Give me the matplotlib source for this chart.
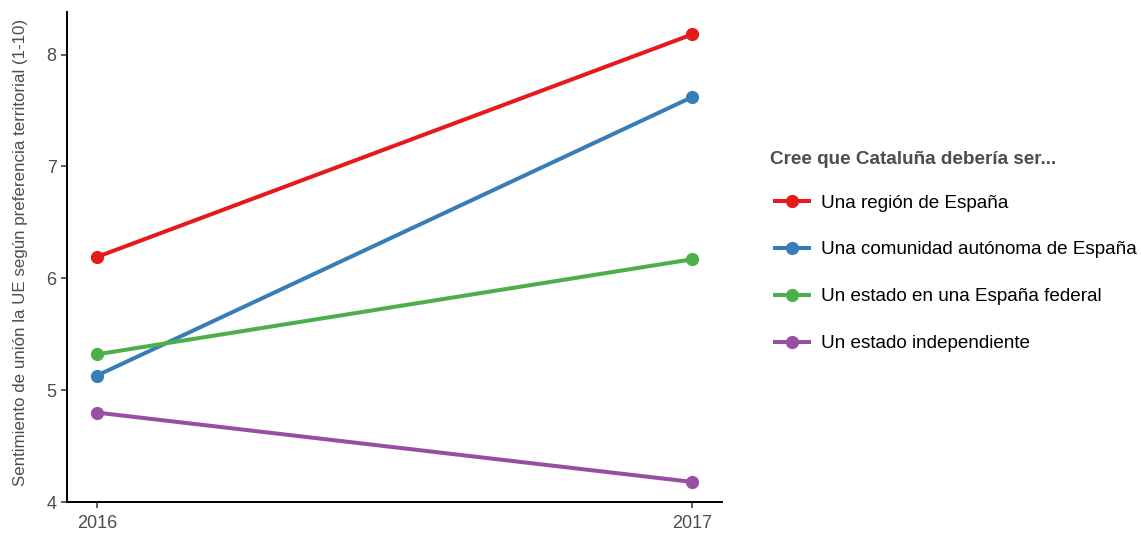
import matplotlib.pyplot as plt

plt.rcParams['font.family'] = ['Liberation Sans', 'DejaVu Sans']

# datos
anios = [2016, 2017]
categorias = ['Una región de España',
              'Una comunidad autónoma de España',
              'Un estado en una España federal',
              'Un estado independiente']
region = [6.19, 8.18]
comunidad = [5.13, 7.62]
federal = [5.32, 6.17]
independiente = [4.80, 4.18]
colores = ['#E41A1C', '#377EB8', '#4DAF4A', '#984EA3']

series = [region, comunidad, federal, independiente]

fig = plt.figure(figsize=(11.41, 5.33), dpi=100)
ax = fig.add_axes([0.0587, 0.058, 0.5741, 0.9195])

for valores, nombre, color in zip(series, categorias, colores):
    ax.plot(anios, valores, color=color, linewidth=2.9, marker='o',
            markersize=8.5, label=nombre, solid_capstyle='butt')

ax.set_xlim(2015.95, 2017.05)
ax.set_ylim(4, 8.38)
ax.set_xticks(anios)
ax.set_xticklabels(['2016', '2017'])
ax.set_yticks([4, 5, 6, 7, 8])

for lado in ['top', 'right']:
    ax.spines[lado].set_visible(False)
for lado in ['left', 'bottom']:
    ax.spines[lado].set_linewidth(1.4)
    ax.spines[lado].set_color('black')

ax.tick_params(axis='both', labelsize=13, labelcolor='#4D4D4D',
               length=4.5, width=1.1, color='#333333', pad=3)
ax.tick_params(axis='x', pad=5)

ax.set_ylabel('Sentimiento de unión la UE según preferencia territorial (1-10)',
              fontsize=12.2, color='#4D4D4D')
ax.yaxis.set_label_coords(-0.059, 0.51)

# titulo de la leyenda aparte
fig.text(770 / 1141, 1 - 160 / 533, 'Cree que Cataluña debería ser...',
         fontsize=13.6, fontweight='bold', color='#4D4D4D', va='center', ha='left')

leg = ax.legend(loc='upper left', bbox_to_anchor=(0.669, 0.653),
                bbox_transform=fig.transFigure, frameon=False,
                fontsize=13.6, labelspacing=1.57,
                handlelength=2.0, handletextpad=0.55, borderpad=0)
for t in leg.get_texts():
    t.set_color('black')

fig.savefig('out.png', dpi=100)
